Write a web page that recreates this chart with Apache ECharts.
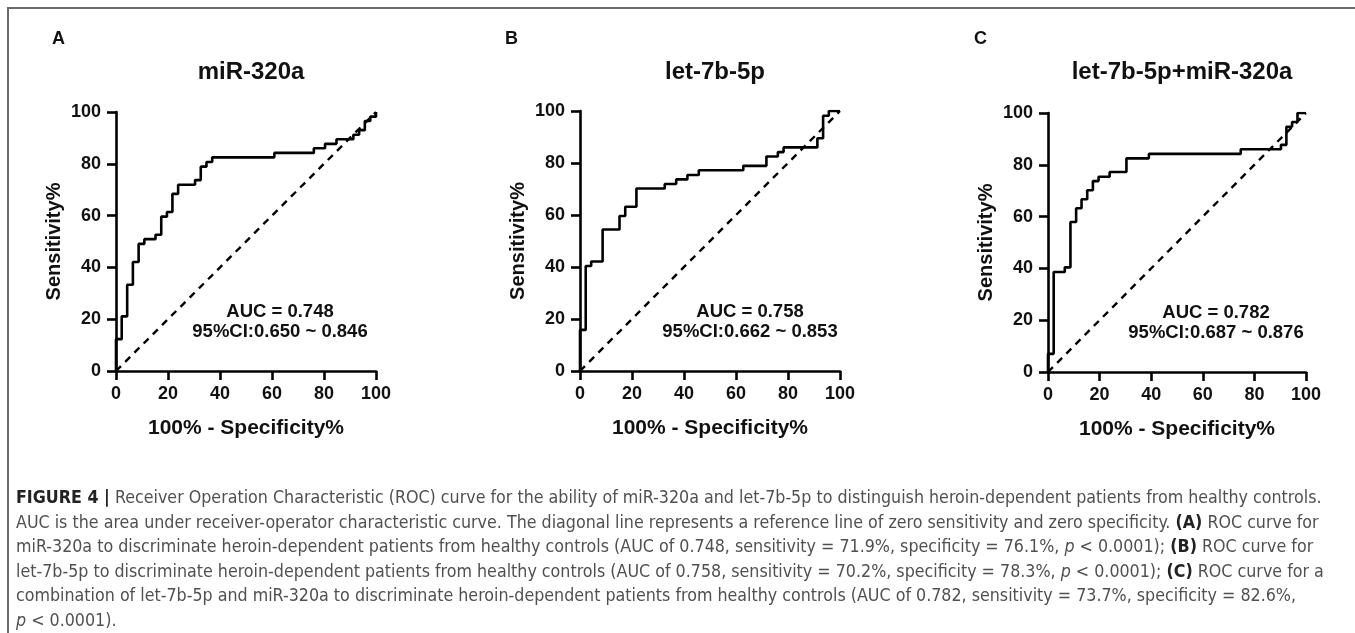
<!DOCTYPE html>
<html>
<head>
<meta charset="utf-8">
<script src="https://cdn.jsdelivr.net/npm/echarts/dist/echarts.min.js"></script>
<style>
  html, body { margin: 0; padding: 0; background: #fff; }
  #main { position: absolute; left: 0; top: 0; width: 1355px; height: 633px; }
  #frame { position: absolute; left: 7px; top: 7px; right: 0; bottom: 0;
           border-top: 2px solid #6a6a6a; border-left: 2px solid #6a6a6a; pointer-events: none; }
  #caption { position: absolute; left: 16px; top: 485px; white-space: nowrap;
             font-family: 'DejaVu Sans Condensed', 'Liberation Sans', sans-serif;
             font-size: 17.7px; line-height: 24.6px; color: #505050; }
  #caption b { color: #222; }
</style>
</head>
<body>
<div id="main"></div>
<div id="frame"></div>
<div id="caption">
<b>FIGURE 4 |</b> Receiver Operation Characteristic (ROC) curve for the ability of miR-320a and let-7b-5p to distinguish heroin-dependent patients from healthy controls.<br>
AUC is the area under receiver-operator characteristic curve. The diagonal line represents a reference line of zero sensitivity and zero specificity. <b>(A)</b> ROC curve for<br>
miR-320a to discriminate heroin-dependent patients from healthy controls (AUC of 0.748, sensitivity = 71.9%, specificity = 76.1%, <i>p</i> &lt; 0.0001); <b>(B)</b> ROC curve for<br>
let-7b-5p to discriminate heroin-dependent patients from healthy controls (AUC of 0.758, sensitivity = 70.2%, specificity = 78.3%, <i>p</i> &lt; 0.0001); <b>(C)</b> ROC curve for a<br>
combination of let-7b-5p and miR-320a to discriminate heroin-dependent patients from healthy controls (AUC of 0.782, sensitivity = 73.7%, specificity = 82.6%,<br>
<i>p</i> &lt; 0.0001).
</div>
<script>
// panel texts
var panelLetters = ['A', 'B', 'C'];
var panelTitles = ['miR-320a', 'let-7b-5p', 'let-7b-5p+miR-320a'];
var aucTexts = ['AUC = 0.748', 'AUC = 0.758', 'AUC = 0.782'];
var ciTexts = ['95%CI:0.650 ~ 0.846', '95%CI:0.662 ~ 0.853', '95%CI:0.687 ~ 0.876'];
var xTitle = '100% - Specificity%';
var yTitle = 'Sensitivity%';

// ROC operating points (100% - specificity, sensitivity)
var fprA = [0, 0, 2.2, 4.3, 6.5, 8.7, 10.9, 15.2, 17.4, 19.6, 21.7, 23.9, 30.4, 32.6, 34.8, 37, 60.9, 76.1, 80.4, 84.8, 91.3, 93.5, 95.7, 97.8, 100];
var tprA = [0, 12.3, 21.1, 33.3, 42.1, 49.1, 50.9, 52.6, 59.6, 61.4, 68.4, 71.9, 73.7, 78.9, 80.7, 82.5, 84.2, 86, 87.7, 89.5, 91.2, 93, 96.5, 98.2, 100];

var fprB = [0, 0, 2.2, 4.3, 8.7, 15.2, 17.4, 21.7, 32.6, 37, 41.3, 45.7, 62.8, 71.7, 76.1, 78.3, 91.3, 93.5, 95.7, 100];
var tprB = [0, 15.8, 40.4, 42.1, 54.4, 59.6, 63.2, 70.2, 71.9, 73.7, 75.4, 77.2, 78.9, 82.5, 84.2, 86, 89.5, 98.2, 100, 100];

var fprC = [0, 0, 2.2, 6.5, 8.7, 10.9, 13, 15.2, 17.4, 19.6, 23.9, 30.4, 39.1, 74.7, 90.3, 92.4, 94.6, 96.7, 100];
var tprC = [0, 7, 38.6, 40.4, 57.9, 63.2, 66.7, 70.2, 73.7, 75.4, 77.2, 82.5, 84.2, 86, 87.7, 94.7, 96.5, 100, 100];

var axisTicks = [0, 20, 40, 60, 80, 100];
var refLine = [0, 100];

var fprs = [fprA, fprB, fprC];
var tprs = [tprA, tprB, tprC];

var chartDom = document.getElementById('main');
var myChart = echarts.init(chartDom);

var FONT = 'Liberation Sans, Arial, sans-serif';
var grids = [
  { left: 116, top: 112, width: 260, height: 259 },
  { left: 580, top: 111, width: 260, height: 260 },
  { left: 1048, top: 113, width: 258, height: 259 }
];
var letterPos = [47, 500, 969];
var titleCenter = [246, 710, 1177];
// centre of the AUC / CI annotation block, px
var noteX = [280, 750, 1216];
var noteY = [312, 312, 313];

function makeAxis(i, isX) {
  return {
    type: 'value',
    gridIndex: i,
    min: axisTicks[0],
    max: axisTicks[axisTicks.length - 1],
    interval: axisTicks[1] - axisTicks[0],
    name: isX ? xTitle : yTitle,
    nameLocation: 'middle',
    nameGap: isX ? 47 : 52,
    nameTextStyle: { fontFamily: FONT, fontWeight: 'bold', fontSize: isX ? 21 : 20, color: '#111' },
    axisLine: { show: true, onZero: false, lineStyle: { color: '#000', width: 2.6 } },
    axisTick: { show: true, length: 9, lineStyle: { color: '#000', width: 2.6 } },
    axisLabel: { fontFamily: FONT, fontWeight: 'bold', fontSize: 18, color: '#111', margin: isX ? 14 : 15 },
    splitLine: { show: false }
  };
}

var xAxes = [], yAxes = [], series = [], titles = [], graphics = [];
for (var i = 0; i < 3; i++) {
  xAxes.push(makeAxis(i, true));
  yAxes.push(makeAxis(i, false));
  var pts = fprs[i].map(function (x, k) { return [x, tprs[i][k]]; });
  series.push({
    type: 'line', xAxisIndex: i, yAxisIndex: i,
    data: [[refLine[0], refLine[0]], [refLine[1], refLine[1]]],
    symbol: 'none', silent: true,
    lineStyle: { color: '#000', width: 2.4, type: [7, 6] }
  });
  series.push({
    type: 'line', xAxisIndex: i, yAxisIndex: i,
    data: pts, step: 'end',
    symbol: 'none', silent: true,
    lineStyle: { color: '#000', width: 2.6 }
  });
  titles.push({
    text: panelLetters[i], left: letterPos[i], top: 25,
    textStyle: { fontFamily: FONT, fontWeight: 'bold', fontSize: 18, color: '#111' }
  });
  titles.push({
    text: panelTitles[i], left: titleCenter[i], top: 55, textAlign: 'center',
    textStyle: { fontFamily: FONT, fontWeight: 'bold', fontSize: 24, color: '#111' }
  });
  graphics.push({
    type: 'text', x: noteX[i], y: noteY[i],
    style: { text: aucTexts[i], align: 'center', verticalAlign: 'middle',
             fontFamily: FONT, fontWeight: 'bold', fontSize: 18.5, fill: '#111' }
  });
  graphics.push({
    type: 'text', x: noteX[i], y: noteY[i] + 20,
    style: { text: ciTexts[i], align: 'center', verticalAlign: 'middle',
             fontFamily: FONT, fontWeight: 'bold', fontSize: 18.5, fill: '#111' }
  });
}

var option = {
  animation: false,
  title: titles,
  grid: grids,
  xAxis: xAxes,
  yAxis: yAxes,
  series: series,
  graphic: graphics
};
myChart.setOption(option);
</script>
</body>
</html>
